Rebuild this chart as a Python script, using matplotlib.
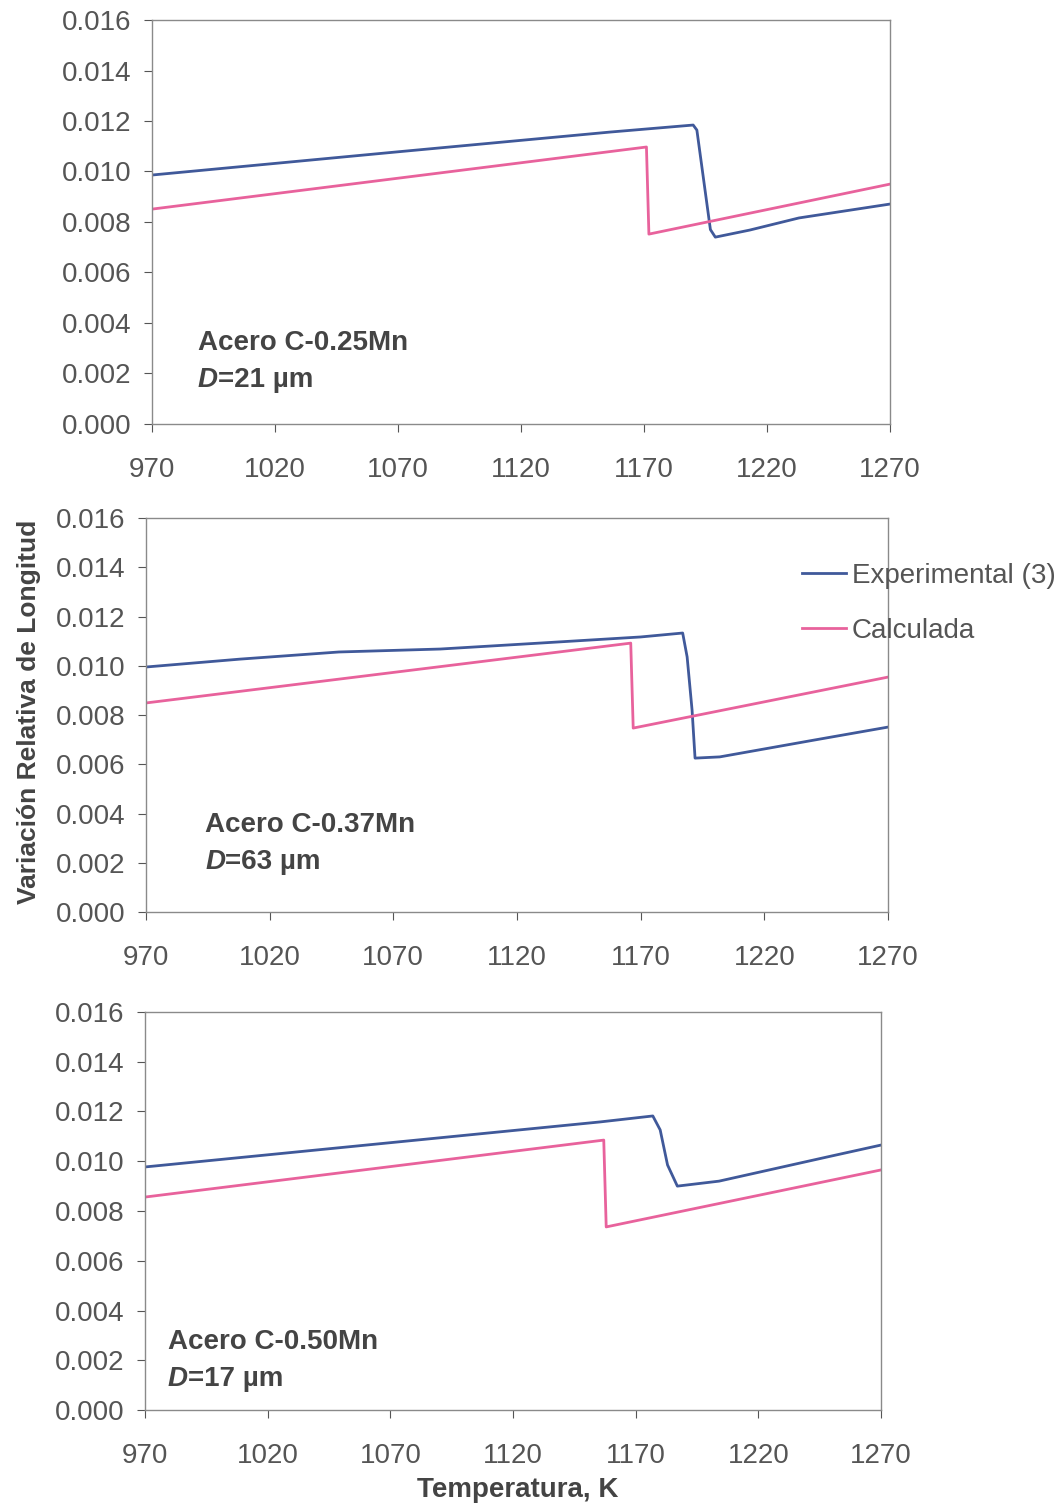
import matplotlib.pyplot as plt

plt.rcParams['font.family'] = ['Liberation Sans', 'DejaVu Sans']

# temperature (K) and relative length change for each steel
exp1_t = [970, 1070, 1156, 1190, 1191.5, 1197, 1199, 1213, 1233, 1270]
exp1_y = [0.00986, 0.01078, 0.01156, 0.01184, 0.01164, 0.0077, 0.0074, 0.00768, 0.00816, 0.00871]
calc1_t = [970, 1171, 1172, 1270]
calc1_y = [0.00851, 0.01097, 0.00752, 0.0095]

exp2_t = [970, 1008, 1048, 1089, 1129, 1170, 1187, 1188.8, 1190.8, 1192, 1202, 1240, 1270]
exp2_y = [0.00995, 0.01027, 0.01056, 0.01068, 0.01092, 0.01117, 0.01133, 0.01036, 0.0082, 0.00625,
          0.0063, 0.00698, 0.00751]
calc2_t = [970, 1166, 1167, 1270]
calc2_y = [0.00849, 0.01092, 0.00747, 0.00954]

exp3_t = [970, 1155.5, 1177, 1180, 1183, 1187, 1204, 1248, 1270]
exp3_y = [0.00977, 0.01158, 0.01182, 0.01126, 0.00985, 0.0090, 0.0092, 0.01017, 0.01065]
calc3_t = [970, 1157, 1158, 1270]
calc3_y = [0.00856, 0.01085, 0.00736, 0.00965]

xticks = [970, 1020, 1070, 1120, 1170, 1220, 1270]
yticks = [0.000, 0.002, 0.004, 0.006, 0.008, 0.010, 0.012, 0.014, 0.016]

steels = ['Acero C-0.25Mn', 'Acero C-0.37Mn', 'Acero C-0.50Mn']
grains = ['21', '63', '17']

blue = '#40599a'
pink = '#e8629c'
grey = '#555555'
dark = '#444444'

fig = plt.figure(figsize=(10.6, 15.05), dpi=100)
boxes = [
    [0.1434, 0.7183, 0.6962, 0.2684],
    [0.1377, 0.3940, 0.7000, 0.2618],
    [0.1368, 0.0631, 0.6943, 0.2645],
]
# (x, y of first line, y of second line) in axes fraction
text_pos = [(0.062, 0.200, 0.110), (0.080, 0.222, 0.128), (0.031, 0.172, 0.079)]

data = [(exp1_t, exp1_y, calc1_t, calc1_y),
        (exp2_t, exp2_y, calc2_t, calc2_y),
        (exp3_t, exp3_y, calc3_t, calc3_y)]

axes = []
for i, box in enumerate(boxes):
    ax = fig.add_axes(box)
    et, ey, ct, cy = data[i]
    ax.plot(et, ey, color=blue, lw=2, label='Experimental (3)')
    ax.plot(ct, cy, color=pink, lw=2, label='Calculada')
    ax.set_xlim(970, 1270)
    ax.set_ylim(0, 0.016)
    ax.set_xticks(xticks)
    ax.set_yticks(yticks)
    ax.set_yticklabels(['%.3f' % v for v in yticks])
    ax.tick_params(labelsize=20, colors=grey, length=6, direction='out')
    ax.tick_params(axis='y', pad=9)
    ax.tick_params(axis='x', pad=18)
    for s in ax.spines.values():
        s.set_color('#8a8a8a')
        s.set_linewidth(1)
    tx, ty1, ty2 = text_pos[i]
    ax.text(tx, ty1, steels[i], transform=ax.transAxes, fontsize=20,
            fontweight='bold', color=dark, va='center')
    d = ax.text(tx, ty2, 'D', transform=ax.transAxes, fontsize=20,
                fontweight='bold', fontstyle='italic', color=dark, va='center')
    ax.annotate('=' + grains[i] + ' \u00b5m', xy=(1, 0.5), xycoords=d,
                fontsize=20, fontweight='bold', color=dark, va='center')
    axes.append(ax)

axes[1].legend(loc='upper left', bbox_to_anchor=(0.884, 0.886), frameon=False,
               fontsize=20, handlelength=1.6, handletextpad=0.2,
               labelspacing=1.03, borderpad=0, borderaxespad=0, labelcolor=grey)

fig.text(0.027, 0.527, 'Variación Relativa de Longitud', rotation=90,
         ha='center', va='center', fontsize=19, fontweight='bold', color=dark)
fig.text(0.488, 0.010, 'Temperatura, K', ha='center', va='center',
         fontsize=20, fontweight='bold', color=dark)

fig.savefig('out.png', dpi=100)
